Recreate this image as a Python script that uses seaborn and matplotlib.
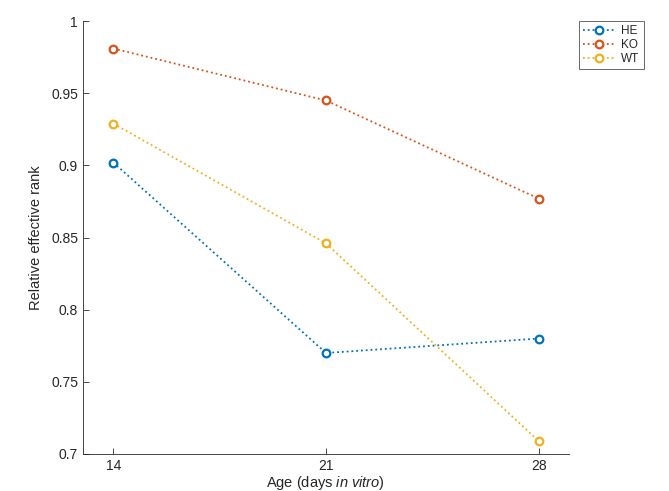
import numpy as np
import pandas as pd
import matplotlib
matplotlib.use("Agg")
import matplotlib.pyplot as plt
import seaborn as sns

# values
days = [14, 21, 28]
he = [0.902, 0.770, 0.780]
ko = [0.981, 0.945, 0.877]
wt = [0.929, 0.846, 0.709]
groups = ["HE", "KO", "WT"]
colors = ["#0072BD", "#D95319", "#EDB120"]

df = pd.DataFrame({
    "day": days * 3,
    "rank": he + ko + wt,
    "group": ["HE"] * 3 + ["KO"] * 3 + ["WT"] * 3,
})

sns.set_style("ticks")
plt.rcParams["font.family"] = ["Liberation Sans", "DejaVu Sans"]
plt.rcParams["mathtext.fontset"] = "custom"
plt.rcParams["mathtext.rm"] = "Liberation Sans"
plt.rcParams["mathtext.it"] = "Liberation Sans:italic"

fig = plt.figure(figsize=(6.69, 4.91), dpi=100)
ax = fig.add_axes([0.124, 0.0754, 0.7265, 0.8816])

sns.lineplot(data=df, x="day", y="rank", hue="group", hue_order=groups,
             palette=colors, marker="o", markersize=5.5, markerfacecolor="white",
             markeredgewidth=1.6, linestyle=":", linewidth=1.3, ax=ax)

# seaborn paints marker edges white; give them the line colour
for ln in ax.lines:
    ln.set_markeredgecolor(ln.get_color())
    ln.set_markerfacecolor("white")

ax.set_xlim(13, 29)
ax.set_ylim(0.7, 1.0)
ax.set_xticks(days)
ax.set_yticks(np.arange(0.7, 1.001, 0.05))
ax.set_yticklabels(["0.7", "0.75", "0.8", "0.85", "0.9", "0.95", "1"])
ax.tick_params(direction="in", length=4, width=0.6, labelsize=10, colors="#262626")
for s in ["left", "bottom"]:
    ax.spines[s].set_linewidth(0.6)
    ax.spines[s].set_color("#262626")
sns.despine(ax=ax)
ax.set_xlabel(r"Age (days $\mathit{in\ vitro}$)", fontsize=10.5, color="#262626", labelpad=1)
ax.set_ylabel("Relative effective rank", fontsize=10.5, color="#262626", labelpad=6)

handles, labels = ax.get_legend_handles_labels()
for h in handles:
    h.set_markeredgecolor(h.get_color())
    h.set_markerfacecolor("white")
leg = ax.legend(handles, labels, loc="upper left", bbox_to_anchor=(0.866, 0.957),
                bbox_transform=fig.transFigure, borderaxespad=0, fontsize=8.5,
                frameon=True, fancybox=False, edgecolor="#262626", handlelength=2.6,
                handletextpad=0.6, borderpad=0.35, labelspacing=0.15)
leg.get_frame().set_linewidth(0.6)

fig.savefig("out.png", dpi=100)
